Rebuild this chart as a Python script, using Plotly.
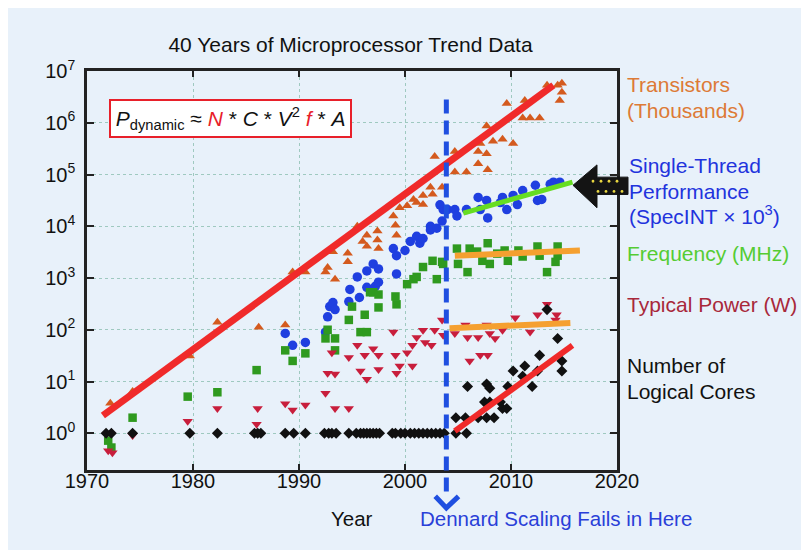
import plotly.graph_objects as go

FONT = "Liberation Sans, Arial, sans-serif"
BG = "#E8F1FA"

# Transistors (thousands)
tr_year = [1972.2, 1974.3, 1979.7, 1982.3, 1986.2, 1988.7, 1989.4, 1990.6, 1992.5, 1992.7,
           1993.4, 1993.2, 1994.6, 1994.6, 1995.5, 1996.0, 1996.4, 1996.4, 1997.4, 1997.4,
           1997.5, 1998.9, 1999.1, 1999.2, 1999.5, 2000.2, 2000.8, 2001.1, 2001.7, 2001.7,
           2002.4, 2002.6, 2003.5, 2002.8, 2004.7, 2004.7, 2005.8, 2006.9, 2006.9, 2007.1,
           2007.7, 2007.7, 2007.8, 2008.3, 2009.2, 2009.6, 2010.2, 2011.1, 2011.3, 2011.8,
           2012.7, 2013.4, 2014.4, 2014.6, 2014.8, 2014.8]
tr_val = [3.8, 6.4, 31, 140, 112, 123, 1300, 1300, 1300, 1600,
          950, 3200, 3000, 2050, 10000, 5100, 6700, 4100, 8100, 5400,
          3700, 15800, 10500, 6700, 22900, 25000, 33000, 28700, 39500, 26300,
          56600, 41400, 56600, 222000, 277000, 112000, 112000, 277000, 162000, 398000,
          870000, 253000, 123000, 437000, 479000, 2350000, 398000, 1240000, 2690000, 1240000,
          1240000, 5300000, 5300000, 2690000, 5800000, 3900000]

# Single-thread performance (SpecINT x 10^3)
st_year = [1988.7, 1989.4, 1990.6, 1992.5, 1992.7, 1992.9, 1993.2, 1993.4, 1994.7, 1994.8,
           1995.5, 1995.7, 1996.4, 1996.4, 1997.0, 1997.2, 1997.5, 1997.5, 1998.9, 1999.2,
           1999.2, 2000.0, 2000.5, 2001.1, 2001.4, 2001.7, 2002.4, 2002.4, 2003.0, 2003.3,
           2003.5, 2003.6, 2004.0, 2004.7, 2004.9, 2005.8, 2006.9, 2007.1, 2007.7, 2007.8,
           2009.0, 2009.2, 2009.6, 2010.2, 2010.6, 2011.1, 2012.3, 2012.5, 2012.9, 2013.7,
           2014.0, 2014.6]
st_val = [85, 50, 57, 90, 178, 280, 335, 245, 350, 600,
          1050, 420, 1370, 660, 1870, 690, 1500, 830, 3700, 2700,
          1200, 3400, 5100, 6400, 4700, 5800, 10000, 8500, 9200, 26000,
          12600, 21000, 21000, 21000, 15800, 21000, 36000, 21000, 31600, 14500,
          28700, 36000, 21000, 39500, 26300, 49000, 62000, 31600, 33000, 65000,
          71000, 71000]

# Frequency (MHz)
fq_year = [1972.0, 1972.3, 1974.3, 1979.5, 1982.3, 1986.0, 1988.7, 1989.4, 1990.6, 1992.5,
           1992.7, 1993.4, 1993.4, 1994.7, 1995.0, 1995.8, 1996.4, 1996.2, 1996.7, 1997.0,
           1997.5, 1997.5, 1999.1, 1999.2, 2000.2, 2000.8, 2001.1, 2001.7, 2002.6, 2003.0,
           2003.5, 2003.6, 2004.9, 2005.0, 2005.9, 2006.1, 2006.8, 2007.3, 2007.8, 2008.0,
           2008.7, 2009.4, 2009.7, 2010.7, 2011.1, 2012.5, 2012.7, 2013.4, 2014.4, 2014.4,
           2014.2]
fq_val = [0.72, 0.53, 2.0, 5.1, 6.2, 16.6, 40, 25, 35, 68,
          100, 68, 40, 155, 280, 90, 90, 195, 530, 530,
          480, 270, 440, 310, 760, 950, 1050, 1630, 2150, 950,
          2050, 1870, 3700, 1870, 1300, 3700, 3240, 2150, 4700, 1870,
          2960, 3400, 2150, 3400, 2600, 4060, 2700, 1300, 4060, 2700,
          2050]

# Typical power (W)
pw_year = [1972.0, 1972.4, 1974.3, 1979.5, 1982.3, 1986.0, 1986.1, 1988.7, 1989.4, 1990.6,
           1992.5, 1992.7, 1993.1, 1993.4, 1993.4, 1994.7, 1994.7, 1995.5, 1995.8, 1996.2,
           1996.4, 1997.0, 1997.5, 1997.5, 1998.9, 1999.1, 1999.2, 1999.5, 2000.2, 2000.7,
           2000.7, 2001.1, 2001.7, 2001.9, 2002.5, 2002.8, 2003.5, 2003.6, 2004.7, 2005.7,
           2005.9, 2006.1, 2006.9, 2007.1, 2007.7, 2007.8, 2008.0, 2008.5, 2009.2, 2010.4,
           2011.8, 2012.5, 2013.4, 2014.3, 2014.2]
pw_val = [0.46, 0.42, 0.9, 1.7, 3.0, 1.5, 3.0, 3.7, 2.8, 3.5,
          5.9, 14.5, 36, 14, 3.0, 29, 3.0, 50, 16, 32,
          11, 43, 32, 17, 90, 32, 14.5, 20, 36, 20,
          50, 71, 98, 57, 50, 98, 155, 78, 85, 123,
          71, 25, 71, 32, 123, 32, 85, 68, 98, 170,
          90, 195, 310, 195, 155]

# Number of logical cores
co_year = [1971.8, 1972.3, 1974.3, 1979.7, 1982.3, 1985.8, 1986.1, 1986.4, 1988.7, 1989.5,
           1990.6, 1992.4, 1992.8, 1993.1, 1993.5, 1994.7, 1995.4, 1995.8, 1996.1, 1996.4,
           1996.7, 1997.0, 1997.3, 1997.6, 1998.8, 1999.1, 1999.6, 2000.0, 2000.5, 2000.9,
           2001.3, 2001.7, 2002.1, 2002.5, 2002.9, 2003.3, 2003.7, 2004.8, 2005.8,
           2004.8, 2005.7, 2005.9, 2006.9, 2007.5, 2007.7, 2007.7, 2008.0, 2008.0, 2008.4,
           2009.0, 2009.2, 2009.6, 2009.7, 2010.2, 2011.1, 2011.3, 2012.0, 2012.5, 2012.7,
           2013.4, 2014.4, 2014.8, 2014.8]
co_val = [1] * 39 + [2, 2, 8, 2, 4, 2, 8.9, 7.4, 4, 2,
                     4, 3, 3, 8, 16, 12.6, 20, 8, 16, 32,
                     245, 68, 25, 16]

# trend lines (start, end)
tr_fit_year, tr_fit_val = [1971.5, 2014.0], [2.2, 5.3e6]
st_fit_year, st_fit_val = [2005.5, 2015.8], [18000, 71000]
fq_fit_year, fq_fit_val = [2004.7, 2016.5], [2700, 3400]
pw_fit_year, pw_fit_val = [2004.2, 2015.6], [107, 135]
co_fit_year, co_fit_val = [2004.7, 2015.8], [1.1, 50]

dennard_year = 2003.9

fig = go.Figure()

def pts(x, y, symbol, color, size):
    fig.add_trace(go.Scatter(x=x, y=y, mode="markers",
                             marker=dict(symbol=symbol, color=color, size=size, line=dict(width=0))))

def fit(x, y, color, width):
    fig.add_trace(go.Scatter(x=x, y=y, mode="lines", line=dict(color=color, width=width)))

pts(tr_year, tr_val, "triangle-up", "#D45A1E", 9)
pts(st_year, st_val, "circle", "#1F3FE0", 9.5)
pts(fq_year, fq_val, "square", "#2F9A1F", 8.5)
pts(pw_year, pw_val, "triangle-down", "#C81E3C", 9)
pts(co_year, co_val, "diamond", "#111111", 8.5)

fit(tr_fit_year, tr_fit_val, "#F02A2A", 7)
fit(st_fit_year, st_fit_val, "#66DD22", 5)
fit(fq_fit_year, fq_fit_val, "#F5A030", 6)
fit(pw_fit_year, pw_fit_val, "#F5A030", 6)
fit(co_fit_year, co_fit_val, "#F02A2A", 6)

# page pixel -> paper coords (plot area spans x 87..617, y 71..462 on the page)
def px2paper(px, py):
    return (px - 87) / 530, (462 - py) / 391

shapes = []
# Dennard dashed line and chevron
shapes.append(dict(type="line", xref="x", yref="paper", x0=dennard_year, x1=dennard_year,
                   y0=-0.054, y1=0.944, line=dict(color="#1F4FE0", width=5, dash="14px,7px")))
shapes.append(dict(type="path", xref="x", yref="paper",
                   path="M %.2f,%.4f L %.2f,%.4f L %.2f,%.4f" % (dennard_year - 1.05, -0.066,
                                                               dennard_year, -0.095,
                                                               dennard_year + 1.15, -0.066),
                   line=dict(color="#1F4FE0", width=5)))
# black block arrow pointing at the single-thread fit
tip = px2paper(573, 183); ht = px2paper(597, 163); hb = px2paper(597, 205)
bt = px2paper(597, 175); bt2 = px2paper(628, 175); bb2 = px2paper(628, 192); bb = px2paper(597, 192)
path = "M %f,%f L %f,%f L %f,%f L %f,%f L %f,%f L %f,%f L %f,%f Z" % (
    tip + ht + bt + bt2 + bb2 + bb + hb)
shapes.append(dict(type="path", xref="paper", yref="paper", path=path,
                   fillcolor="#141414", line=dict(color="#141414", width=1)))
for dx, dy in [(593, 179), (601, 179), (609, 179), (617, 179), (598, 189), (606, 189), (614, 189), (622, 189)]:
    cx, cy = px2paper(dx, dy)
    shapes.append(dict(type="circle", xref="paper", yref="paper",
                       x0=cx - 1.4 / 530, x1=cx + 1.4 / 530, y0=cy - 1.4 / 391, y1=cy + 1.4 / 391,
                       fillcolor="#E8D640", line=dict(width=0)))

ann = []
def label(text, px, py, color, xanchor="left", size=21):
    x, y = px2paper(px, py)
    ann.append(dict(text=text, x=x, y=y, xref="paper", yref="paper", xanchor=xanchor,
                    yanchor="middle", showarrow=False, align="left",
                    font=dict(family=FONT, size=size, color=color)))

label("Transistors", 625, 84, "#DD7A36")
label("(Thousands)", 625, 110, "#DD7A36")
label("Single-Thread", 627, 164, "#2233DD")
label("Performance", 627, 189, "#2233DD")
label("(SpecINT × 10<sup>3</sup>)", 627, 212, "#2233DD")
label("Frequency (MHz)", 625, 250, "#55CC33")
label("Typical Power (W)", 625, 300, "#A8283A")
label("Number of", 625, 360, "#111111")
label("Logical Cores", 625, 385, "#111111")
label("Year", 352, 510, "#111111", "center", 20.5)
label("Dennard Scaling Fails in Here", 556, 510, "#2A3FD8", "center", 20.5)

red = "#E8202A"
eq = ("&#8202;<i>P</i><sub>dynamic</sub> ≈ <i><span style='color:%s'>N</span></i> * <i>C</i> * "
      "<i>V</i><sup>2</sup> <i><span style='color:%s'>f</span></i> * <i>A</i>&#8202;") % (red, red)
ex, ey = px2paper(109, 98)
ann.append(dict(text=eq, x=ex, y=ey, xref="paper", yref="paper", xanchor="left", yanchor="top",
                showarrow=False, bgcolor="white", bordercolor=red, borderwidth=2, borderpad=3,
                font=dict(family=FONT, size=21, color="#111111")))

grid = dict(showgrid=True, gridcolor="#9FC9C0", gridwidth=1, griddash="dot")
axis_style = dict(showline=True, linecolor="#222222", linewidth=2.5, mirror="ticks",
                  ticks="inside", tickcolor="#222222", tickwidth=2, zeroline=False,
                  tickfont=dict(family=FONT, size=20, color="#111111"))

# the page adds an 8px body margin, so the figure is 8px smaller than the window
fig.update_layout(
    width=801, height=542,
    margin=dict(l=79, r=192, t=63, b=80),
    paper_bgcolor=BG, plot_bgcolor=BG,
    showlegend=False,
    title=dict(text="40 Years of Microprocessor Trend Data", x=(350.5 - 8) / 801, xanchor="center",
               y=1 - (45 - 8) / 542, yanchor="middle",
               font=dict(family=FONT, size=21, color="#111111")),
    xaxis=dict(range=[1970, 2020], dtick=10, tick0=1970, ticklen=6,
               ticklabelstandoff=-9, **grid, **axis_style),
    yaxis=dict(type="log", range=[-0.71, 7], ticklen=7,
               tickvals=[10 ** k for k in range(8)],
               ticktext=["10<sup>%d</sup>" % k for k in range(8)],
               ticklabelstandoff=5, **grid, **axis_style),
    shapes=shapes, annotations=ann,
)

fig.write_html("out.html")
